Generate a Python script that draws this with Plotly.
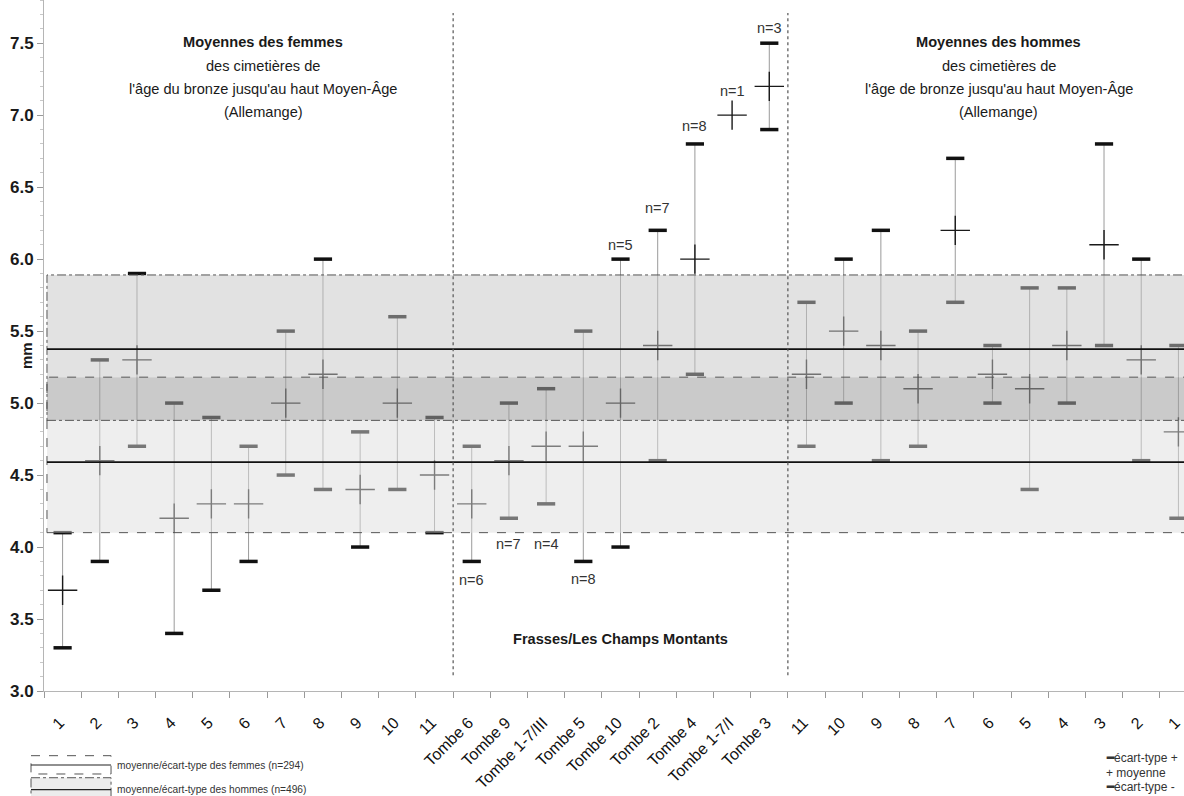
import plotly.graph_objects as go

# ---- data -------------------------------------------------------------
women_labels = ["1", "2", "3", "4", "5", "6", "7", "8", "9", "10", "11"]
women_mean = [3.7, 4.6, 5.3, 4.2, 4.3, 4.3, 5.0, 5.2, 4.4, 5.0, 4.5]
women_sd_plus = [4.1, 5.3, 5.9, 5.0, 4.9, 4.7, 5.5, 6.0, 4.8, 5.6, 4.9]
women_sd_minus = [3.3, 3.9, 4.7, 3.4, 3.7, 3.9, 4.5, 4.4, 4.0, 4.4, 4.1]

tombe_labels = ["Tombe 6", "Tombe 9", "Tombe 1-7/III", "Tombe 5", "Tombe 10",
                "Tombe 2", "Tombe 4", "Tombe 1-7/I", "Tombe 3"]
tombe_mean = [4.3, 4.6, 4.7, 4.7, 5.0, 5.4, 6.0, 7.0, 7.2]
tombe_sd_plus = [4.7, 5.0, 5.1, 5.5, 6.0, 6.2, 6.8, None, 7.5]
tombe_sd_minus = [3.9, 4.2, 4.3, 3.9, 4.0, 4.6, 5.2, None, 6.9]
tombe_n = [6, 7, 4, 8, 5, 7, 8, 1, 3]

men_labels = ["11", "10", "9", "8", "7", "6", "5", "4", "3", "2", "1"]
men_mean = [5.2, 5.5, 5.4, 5.1, 6.2, 5.2, 5.1, 5.4, 6.1, 5.3, 4.8]
men_sd_plus = [5.7, 6.0, 6.2, 5.5, 6.7, 5.4, 5.8, 5.8, 6.8, 6.0, 5.4]
men_sd_minus = [4.7, 5.0, 4.6, 4.7, 5.7, 5.0, 4.4, 5.0, 5.4, 4.6, 4.2]

# reference populations (mean and standard-deviation band)
women_ref_mean = 4.59
women_ref_band = (4.10, 5.18)
men_ref_mean = 5.375
men_ref_band = (4.88, 5.89)

# ---- assembled series -------------------------------------------------
labels = women_labels + tombe_labels + men_labels
means = women_mean + tombe_mean + men_mean
sd_plus = women_sd_plus + tombe_sd_plus + men_sd_plus
sd_minus = women_sd_minus + tombe_sd_minus + men_sd_minus
xs = list(range(len(labels)))
tombe_x = xs[len(women_labels):len(women_labels) + len(tombe_labels)]

FONT = "Liberation Sans, Arial, sans-serif"

fig = go.Figure()

# thin connectors between the two standard-deviation marks
vx, vy = [], []
for x, lo, hi in zip(xs, sd_minus, sd_plus):
    if lo is None or hi is None:
        continue
    vx += [x, x, None]
    vy += [lo, hi, None]
fig.add_trace(go.Scatter(x=vx, y=vy, mode="lines",
                         line=dict(color="#9a9a9a", width=1),
                         hoverinfo="skip", showlegend=False))

sd_style = dict(symbol="line-ew", size=13, line=dict(width=3.5, color="#111"))
fig.add_trace(go.Scatter(x=xs, y=sd_plus, mode="markers", marker=sd_style,
                         name="écart-type +", showlegend=False))
fig.add_trace(go.Scatter(x=xs, y=sd_minus, mode="markers", marker=sd_style,
                         name="écart-type -", showlegend=False))
fig.add_trace(go.Scatter(x=xs, y=means, mode="markers",
                         marker=dict(symbol="cross-thin", size=21,
                                     line=dict(width=1.4, color="#1a1a1a")),
                         name="moyenne", showlegend=False))

# ---- reference bands (translucent, drawn over the marks) ---------------
x_left, x_right = -0.42, 32
w_lo, w_hi = women_ref_band
m_lo, m_hi = men_ref_band
ov_lo, ov_hi = max(w_lo, m_lo), min(w_hi, m_hi)
band_fills = [
    (w_lo, ov_lo, "rgba(221,221,221,0.50)"),   # women only
    (ov_lo, ov_hi, "rgba(160,160,160,0.56)"),  # overlap
    (ov_hi, m_hi, "rgba(198,198,198,0.51)"),   # men only
]
for y0, y1, col in band_fills:
    fig.add_shape(type="rect", x0=x_left, x1=x_right, y0=y0, y1=y1,
                  fillcolor=col, line=dict(width=0), layer="above")

fig.add_shape(type="rect", x0=x_left, x1=x_right, y0=w_lo, y1=w_hi,
              line=dict(color="#555", width=1, dash="dash"), layer="above")
fig.add_shape(type="rect", x0=x_left, x1=x_right, y0=m_lo, y1=m_hi,
              line=dict(color="#555", width=1, dash="dashdot"), layer="above")
for m in (women_ref_mean, men_ref_mean):
    fig.add_shape(type="line", x0=x_left, x1=x_right, y0=m, y1=m,
                  line=dict(color="#111", width=1.6), layer="above")

# group separators
n_w, n_t = len(women_labels), len(tombe_labels)
for sep in (n_w - 0.5, n_w + n_t - 0.5):
    fig.add_shape(type="line", x0=sep, x1=sep, y0=3.11, y1=7.71,
                  line=dict(color="#555", width=1.2, dash="dot"), layer="above")

# ---- annotations ------------------------------------------------------
ann = []
# sample sizes of the Frasses tombs (pixel nudges keep them clear of marks)
n_label_shift = [-19, -26, -40, -18, 14, 22, 18, 24, 15]
for x, n, lo, hi, mu, dy in zip(tombe_x, tombe_n, tombe_sd_minus,
                                tombe_sd_plus, tombe_mean, n_label_shift):
    if dy < 0:
        anchor = lo
    else:
        anchor = hi if hi is not None else mu
    ann.append(dict(x=x, y=anchor, xref="x", yref="y", text=f"n={n}",
                    showarrow=False, yshift=dy,
                    font=dict(family=FONT, size=14.5, color="#333")))


def title_block(xc, lines):
    top, step = 7.505, 0.16
    for i, t in enumerate(lines):
        ann.append(dict(x=xc, y=top - i * step, xref="x", yref="y", text=t,
                        showarrow=False,
                        font=dict(family=FONT, size=14.6, color="#1a1a1a")))


title_block(5.4, ["<b>Moyennes des femmes</b>", "des cimetières de",
                  "l'âge du bronze jusqu'au haut Moyen-Âge", "(Allemange)"])
title_block(25.17, ["<b>Moyennes des hommes</b>", "des cimetières de",
                    "l'âge de bronze jusqu'au haut Moyen-Âge", "(Allemange)"])
ann.append(dict(x=15, y=3.36, xref="x", yref="y",
                text="<b>Frasses/Les Champs Montants</b>", showarrow=False,
                font=dict(family=FONT, size=14.6, color="#1a1a1a")))

ann.append(dict(x=-0.0246, y=5.33, xref="paper", yref="y", text="<b>mm</b>",
                textangle=-90, showarrow=False,
                font=dict(family=FONT, size=15, color="#1a1a1a")))

# legend, lower left
ann.append(dict(x=0.0623, y=-0.1071, xref="paper", yref="paper",
                xanchor="left", yanchor="middle", showarrow=False,
                text="moyenne/écart-type des femmes (n=294)",
                font=dict(family=FONT, size=10.2, color="#333")))
ann.append(dict(x=0.0623, y=-0.1428, xref="paper", yref="paper",
                xanchor="left", yanchor="middle", showarrow=False,
                text="moyenne/écart-type des hommes (n=496)",
                font=dict(family=FONT, size=10.2, color="#333")))
fig.add_shape(type="rect", xref="paper", yref="paper", x0=-0.0114, x1=0.0588,
              y0=-0.0936, y1=-0.1201, line=dict(color="#555", width=1, dash="dash"))
fig.add_shape(type="line", xref="paper", yref="paper", x0=-0.0114, x1=0.0588,
              y0=-0.1071, y1=-0.1071, line=dict(color="#222", width=1.2))
fig.add_shape(type="rect", xref="paper", yref="paper", x0=-0.0114, x1=0.0588,
              y0=-0.1255, y1=-0.16, fillcolor="#ececec",
              line=dict(color="#555", width=1, dash="dashdot"))
fig.add_shape(type="line", xref="paper", yref="paper", x0=-0.0114, x1=0.0588,
              y0=-0.1428, y1=-0.1428, line=dict(color="#222", width=1.2))

# legend, lower right
for yy, t in [(-0.097, "<b>━</b>écart-type +"), (-0.1187, "+ moyenne"),
              (-0.1389, "<b>━</b>écart-type -")]:
    ann.append(dict(x=0.9298, y=yy, xref="paper", yref="paper",
                    xanchor="left", yanchor="middle", showarrow=False, text=t,
                    font=dict(family=FONT, size=12, color="#333")))

fig.update_layout(
    width=1184, height=796,
    margin=dict(l=44, r=0, t=0, b=105),
    paper_bgcolor="white", plot_bgcolor="white",
    showlegend=False,
    annotations=ann,
    xaxis=dict(
        range=[-0.5, 30.15],
        tickmode="array", tickvals=xs, ticktext=labels,
        tickangle=-45, ticks="",
        tickfont=dict(family=FONT, size=16, color="#111"),
        ticklabelstandoff=15, ticklabelshift=-3,
        ticklabeloverflow="allow",
        showgrid=False, zeroline=False,
        showline=True, linecolor="#b5b5b5", linewidth=1,
        minor=dict(tick0=-0.5, dtick=1, ticks="outside", ticklen=6,
                   tickcolor="#999", showgrid=False),
    ),
    yaxis=dict(
        range=[3, 7.8],
        tickmode="array", tickvals=[3.0, 3.5, 4.0, 4.5, 5.0, 5.5, 6.0, 6.5, 7.0, 7.5],
        ticktext=["3.0", "3.5", "4.0", "4.5", "5.0", "5.5", "6.0", "6.5", "7.0", "7.5"],
        ticks="outside", ticklen=6, tickcolor="#999",
        tickfont=dict(family=FONT, size=17, color="#1a1a1a", weight="bold"),
        showgrid=False, zeroline=False,
        showline=True, linecolor="#b5b5b5", linewidth=1,
        minor=dict(dtick=0.1, tick0=3, ticks="outside", ticklen=3,
                   tickcolor="#c8c8c8", showgrid=False),
    ),
)

fig.write_html("out.html")
